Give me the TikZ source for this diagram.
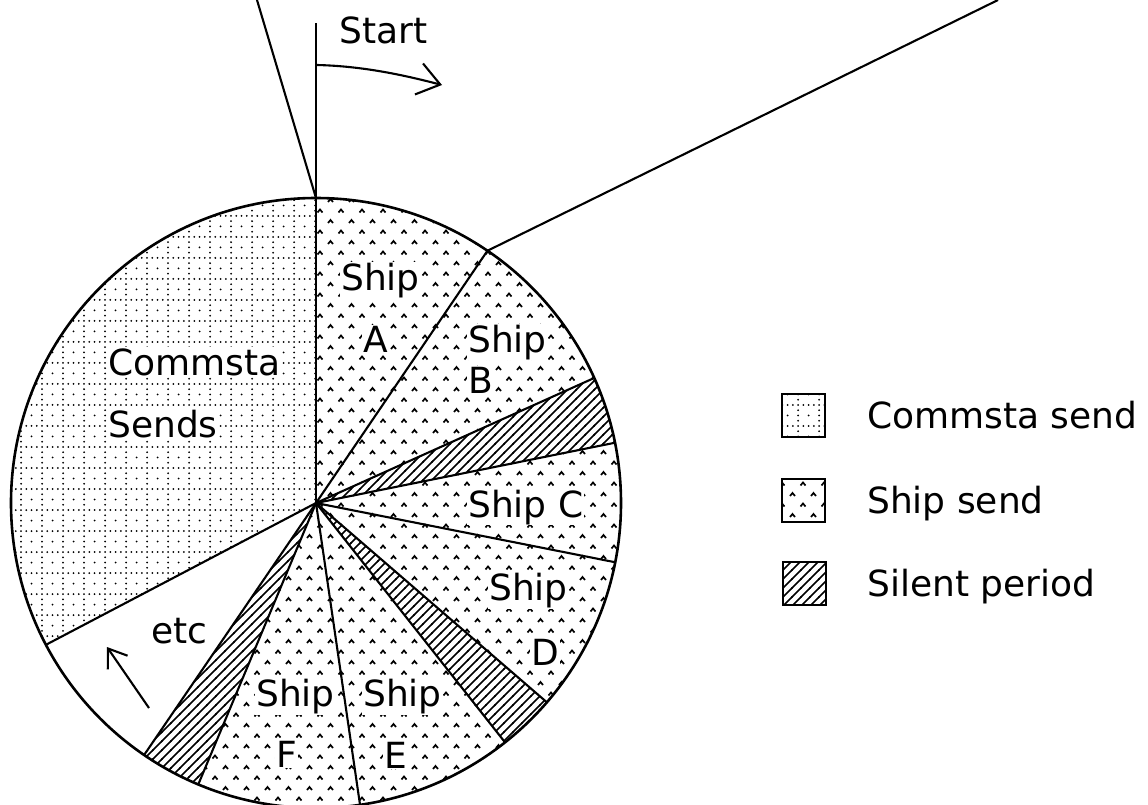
\documentclass[tikz,border=0pt]{standalone}
\usepackage{fontspec}
\setmainfont{DejaVu Sans}
\usetikzlibrary{positioning,arrows.meta,patterns}

\pgfdeclarepatternformonly{commsta}{\pgfqpoint{-2pt}{-2pt}}{\pgfqpoint{23pt}{23pt}}{\pgfqpoint{21pt}{21pt}}{%
  \pgfpathcircle{\pgfqpoint{0pt}{0pt}}{1pt}
  \pgfpathcircle{\pgfqpoint{5.25pt}{0pt}}{1pt}
  \pgfpathcircle{\pgfqpoint{10.5pt}{0pt}}{1pt}
  \pgfpathcircle{\pgfqpoint{15.75pt}{0pt}}{1pt}
  \pgfpathcircle{\pgfqpoint{0pt}{5.25pt}}{1pt}
  \pgfpathcircle{\pgfqpoint{0pt}{10.5pt}}{1pt}
  \pgfpathcircle{\pgfqpoint{0pt}{15.75pt}}{1pt}
  \pgfpathcircle{\pgfqpoint{10.5pt}{10.5pt}}{1pt}
  \pgfusepath{fill}}
\pgfdeclarepatternformonly{shipsend}{\pgfqpoint{-1pt}{-1pt}}{\pgfqpoint{22pt}{22pt}}{\pgfqpoint{21pt}{21pt}}{%
  \pgfsetlinewidth{1.7pt}
  \pgfpathmoveto{\pgfqpoint{2.5pt}{3.5pt}}\pgfpathlineto{\pgfqpoint{5pt}{6.5pt}}\pgfpathlineto{\pgfqpoint{7.5pt}{3.5pt}}
  \pgfpathmoveto{\pgfqpoint{13pt}{14pt}}\pgfpathlineto{\pgfqpoint{15.5pt}{17pt}}\pgfpathlineto{\pgfqpoint{18pt}{14pt}}
  \pgfusepath{stroke}}
\pgfdeclarepatternformonly{silent}{\pgfqpoint{-1pt}{-1pt}}{\pgfqpoint{10pt}{10pt}}{\pgfqpoint{9pt}{9pt}}{%
  \pgfsetlinewidth{1.6pt}
  \pgfpathmoveto{\pgfqpoint{-1pt}{-1pt}}\pgfpathlineto{\pgfqpoint{10pt}{10pt}}
  \pgfusepath{stroke}}

\begin{document}
\begin{tikzpicture}[x=1pt,y=-1pt,
    rim/.style={line width=2.6pt},
    spoke/.style={line width=2.1pt},
    lbl/.style={font=\fontsize{36}{40}\selectfont,anchor=base west,inner sep=1pt,fill=white},
    keybox/.style={draw,line width=2pt,minimum size=43pt,inner sep=0pt}]
    \path[use as bounding box,fill=white] (0,0) rectangle (1148,804);
    \coordinate (c) at (316,503);
    \foreach \a/\b/\p in {152.3/270/commsta,-90/-24.2/shipsend,-24.2/-11.4/silent,
        -11.4/40.8/shipsend,40.8/51.7/silent,51.7/112.7/shipsend,112.7/124.3/silent}
        \fill[pattern=\p] (c) -- ++(\a:305) arc[start angle=\a,end angle=\b,radius=305] -- cycle;
    \foreach \a in {-55.8,-24.2,-11.4,11.2,40.8,51.7,81.7,112.7,124.3,152.3}
        \draw[spoke] (c) -- ++(\a:305);
    \path (c) ++(-55.8:305) coordinate (ab);
    \path (c) ++(-90:305) coordinate (top);
    \coordinate (flag) at (316,23);
    \draw[spoke] (c) -- (flag);
    \draw[spoke] (257,0) -- (top);
    \draw[spoke] (ab) -- (998,0);
    \draw[rim] (c) circle[radius=305];
    \draw[spoke,-{Straight Barb[length=22pt,width=32pt]}] (317,65) .. controls (360,66) and (400,74) .. (442,85);
    \draw[spoke,-{Straight Barb[length=17pt,width=24pt]}] (149,708) -- (107,647);
    \node[lbl,fill=none] (start) at (338,43) {Start};
    \node[lbl] (comm) at (107,375) {Commsta};
    \node[lbl] (sends) at (107,437) {Sends};
    \node[lbl] (shipa) at (340,290) {Ship};
    \node[lbl] (a) at (362,352) {A};
    \node[lbl] (shipb) at (467,352) {Ship};
    \node[lbl] (b) at (467,393) {B};
    \node[lbl] (shipc) at (467,517) {Ship C};
    \node[lbl] (shipd) at (488,600) {Ship};
    \node[lbl] (d) at (530,665) {D};
    \node[lbl] (shipe) at (362,706) {Ship};
    \node[lbl] (e) at (383,768) {E};
    \node[lbl] (shipf) at (255,706) {Ship};
    \node[lbl] (f) at (275,767) {F};
    \node[lbl,fill=none] (etc) at (150,643) {etc};
    \node[keybox,pattern=commsta] (kc) at (803.5,415.5) {};
    \node[keybox,pattern=shipsend] (ks) at (803.5,500) {};
    \node[keybox,pattern=silent] (kq) at (804,583.5) {};
    \node[lbl,fill=none] (tc) at (866,428.5) {Commsta send};
    \node[lbl,fill=none] (ts) at (866,513) {Ship send};
    \node[lbl,fill=none] (tq) at (866,596.5) {Silent period};
\end{tikzpicture}
\end{document}
